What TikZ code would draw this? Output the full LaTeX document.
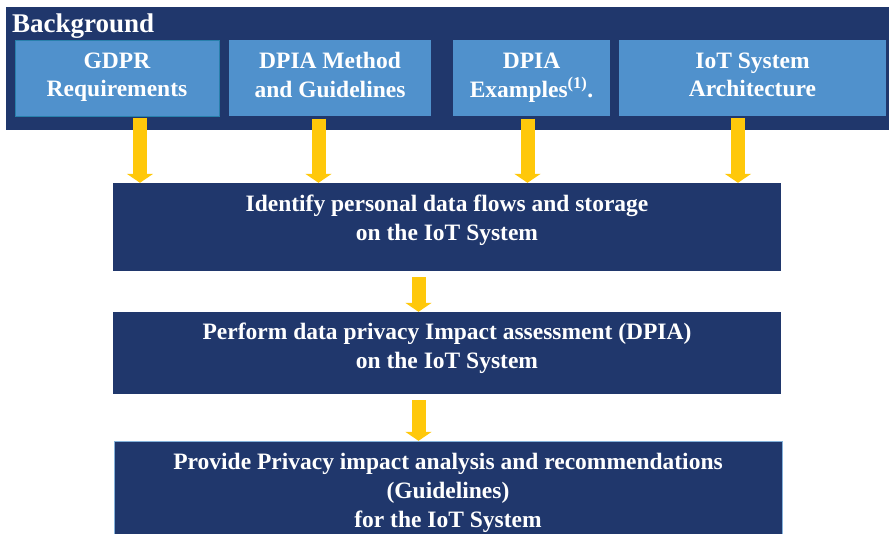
\documentclass[tikz,border=0pt]{standalone}
\usepackage{fontspec}
\setmainfont{Liberation Serif}
\usetikzlibrary{arrows.meta,positioning,calc,backgrounds}
\definecolor{navy}{RGB}{32,55,108}
\definecolor{skyb}{RGB}{80,145,204}
\definecolor{edgeb}{RGB}{40,128,172}
\definecolor{gold}{RGB}{255,200,10}
\tikzset{
  panel/.style={fill=navy, inner sep=0pt},
  source/.style={fill=skyb, text=white, align=center, inner sep=0pt,
    minimum height=76pt, text height=45pt, text depth=7pt,
    font=\bfseries\fontsize{23.5}{28.5}\selectfont},
  stage/.style={fill=navy, text=white, align=center, inner sep=0pt,
    minimum width=668pt, font=\bfseries\fontsize{23.5}{29}\selectfont},
  feed/.style={draw=gold, line width=14pt, -{Triangle[length=9pt, width=26pt]}}
}
\begin{document}
\begin{tikzpicture}[x=1pt, y=1pt]
    \useasboundingbox (0,0) rectangle (889,533);
    % Background panel with its four inputs
    \node[panel, minimum width=883pt, minimum height=123pt] (bg) at (447.5,464.5) {};
    \node[anchor=base west, inner sep=0pt, text=white,
      font=\bfseries\fontsize{27}{32}\selectfont] (bglbl) at (12,500) {Background};

    \node[source, draw=edgeb, minimum width=204pt] (gdpr) at (117,455)   {GDPR\\Requirements};
    \node[source, minimum width=202pt]             (meth) at (330,454.5) {DPIA Method\\and Guidelines};
    \node[source, minimum width=157pt]             (exam) at (531.5,454.5) {DPIA\\Examples\textsuperscript{(1)}.};
    \node[source, minimum width=267pt]             (iot)  at (752.5,455) {IoT System\\Architecture};

    % the three steps
    \node[stage, minimum height=88pt, text depth=19pt] (idf)  at (447,306) {Identify personal data flows and storage\\on the IoT System};
    \node[stage, minimum height=82pt, text depth=15pt] (perf) at (447,180) {Perform data privacy Impact assessment (DPIA)\\on the IoT System};
    \node[stage, draw=skyb!70, minimum height=104pt] (prov) at (448,40)
      {Provide Privacy impact analysis and recommendations\\(Guidelines)\\for the IoT System};

    % yellow arrows
    \foreach \src/\dx in {gdpr/23, meth/-11.5, exam/-4, iot/-14.5}
      \draw[feed] ([xshift=\dx, yshift=-2]\src.south) -- ([xshift=\dx]\src.south |- idf.north);
    \draw[feed] ([xshift=-28.5, yshift=-6]idf.south) -- ([xshift=-28.5]idf.south |- perf.north);
    \draw[feed] ([xshift=-28.5, yshift=-6]perf.south) -- ([xshift=-28.5]perf.south |- prov.north);
\end{tikzpicture}
\end{document}
